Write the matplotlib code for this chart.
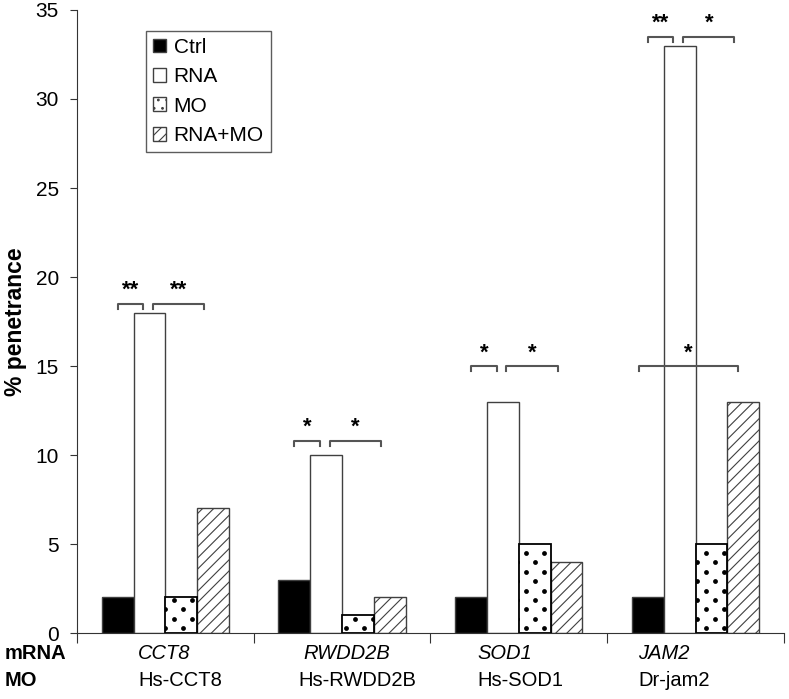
import numpy as np
import matplotlib.pyplot as plt
from matplotlib.patches import Patch

plt.rcParams["font.family"] = ["Liberation Sans", "DejaVu Sans"]
plt.rcParams["hatch.linewidth"] = 0.8
plt.rcParams["hatch.color"] = "#555555"

genes = ["CCT8", "RWDD2B", "SOD1", "JAM2"]
morpholinos = ["Hs-CCT8", "Hs-RWDD2B", "Hs-SOD1", "Dr-jam2"]
conditions = ["Ctrl", "RNA", "MO", "RNA+MO"]

ctrl = [2, 3, 2, 2]
rna = [18, 10, 13, 33]
mo = [2, 1, 5, 5]
rna_mo = [7, 2, 4, 13]

# significance: (group, from bar, to bar, height, label)
sig = [
    (0, 0, 1, 18.5, "**"),
    (0, 1, 3, 18.5, "**"),
    (1, 0, 1, 10.8, "*"),
    (1, 1, 3, 10.8, "*"),
    (2, 0, 1, 15.0, "*"),
    (2, 1, 3, 15.0, "*"),
    (3, 0, 1, 33.5, "**"),
    (3, 1, 3, 33.5, "*"),
    (3, 0, 3, 15.0, "*"),
]

fig = plt.figure(figsize=(7.89, 6.99), dpi=100)
ax = fig.add_axes([0.0976, 0.0944, 0.896, 0.8913])

x = np.arange(len(genes))
w = 0.18
offsets = np.array([-1.5, -0.5, 0.5, 1.5]) * w
edge = "#404040"

ax.bar(x + offsets[0], ctrl, w, color="black", edgecolor=edge, lw=1)
ax.bar(x + offsets[1], rna, w, color="white", edgecolor=edge, lw=1)
mo_bars = ax.bar(x + offsets[2], mo, w, color="white", edgecolor="black", lw=1.3, zorder=2)
ax.bar(x + offsets[3], rna_mo, w, color="white", edgecolor=edge, lw=1, hatch="///")

# dotted fill for the MO bars
dot_dx, dot_dy = 0.102, 0.53
for rect in mo_bars.patches:
    x0, wd, hgt = rect.get_x(), rect.get_width(), rect.get_height()
    xs, ys = [], []
    for j, yy in enumerate(np.arange(dot_dy / 2, hgt, dot_dy)):
        shift = dot_dx / 2 if j % 2 else 0.0
        start = np.floor(x0 / dot_dx) * dot_dx + shift - dot_dx
        for xx in np.arange(start, x0 + wd + dot_dx, dot_dx):
            xs.append(xx)
            ys.append(yy)
    sc = ax.scatter(xs, ys, s=12, c="black", lw=0, zorder=2.5)
    sc.set_clip_path(rect)

for g, a, b, h, label in sig:
    x0 = g + offsets[a]
    x1 = g + offsets[b]
    if b == 1:
        x1 -= 0.035
    elif a == 1:
        x0 += 0.02
        x1 -= 0.05
    else:
        x0 -= 0.05
        x1 -= 0.03
    ax.plot([x0, x0, x1, x1], [h - 0.28, h, h, h - 0.28], color="#555555", lw=1.5)
    ax.text((x0 + x1) / 2, h + 0.15, label, ha="center", va="bottom",
            fontsize=16, fontweight="bold")

ax.set_xlim(-0.5, 3.5)
ax.set_ylim(0, 35)
ax.set_yticks(range(0, 36, 5))
ax.tick_params(axis="y", labelsize=15, length=5, pad=8, direction="out", color="#333333")
ax.set_xticks(np.arange(-0.5, 3.6, 1))
ax.set_xticklabels([])
ax.tick_params(axis="x", length=7.5, direction="out", color="#333333")
for s in ["top", "right"]:
    ax.spines[s].set_visible(False)
for s in ["left", "bottom"]:
    ax.spines[s].set_color("#333333")
ax.set_ylabel("% penetrance", fontsize=16.5, fontweight="bold", labelpad=6)

handles = [
    Patch(facecolor="black", edgecolor=edge),
    Patch(facecolor="white", edgecolor=edge),
    Patch(facecolor="white", edgecolor=edge, hatch=".."),
    Patch(facecolor="white", edgecolor=edge, hatch="///"),
]
leg = ax.legend(handles, conditions, loc="upper left", bbox_to_anchor=(0.097, 0.967),
                fontsize=15, frameon=True, fancybox=False, edgecolor="#333333",
                handlelength=0.65, handleheight=0.65, handletextpad=0.35,
                labelspacing=0.5, borderpad=0.35, borderaxespad=0)
leg.get_frame().set_linewidth(1)

trans = ax.get_xaxis_transform()
row1, row2 = -0.042, -0.0855
fig.text(0.0063, 0.0944 + row1 * 0.8913, "mRNA", ha="left", va="baseline",
         fontsize=14.5, fontweight="bold")
fig.text(0.0063, 0.0944 + row2 * 0.8913, "MO", ha="left", va="baseline",
         fontsize=14.5, fontweight="bold")
label_x = [-0.155, 0.779, 1.763, 2.674]
mo_x = [-0.155, 0.750, 1.763, 2.674]
for i in range(len(genes)):
    ax.text(label_x[i], row1, genes[i], transform=trans, ha="left", va="baseline",
            fontsize=14.5, fontstyle="italic")
    ax.text(mo_x[i], row2, morpholinos[i], transform=trans, ha="left", va="baseline",
            fontsize=14.5)

fig.savefig("out.png", dpi=100)
